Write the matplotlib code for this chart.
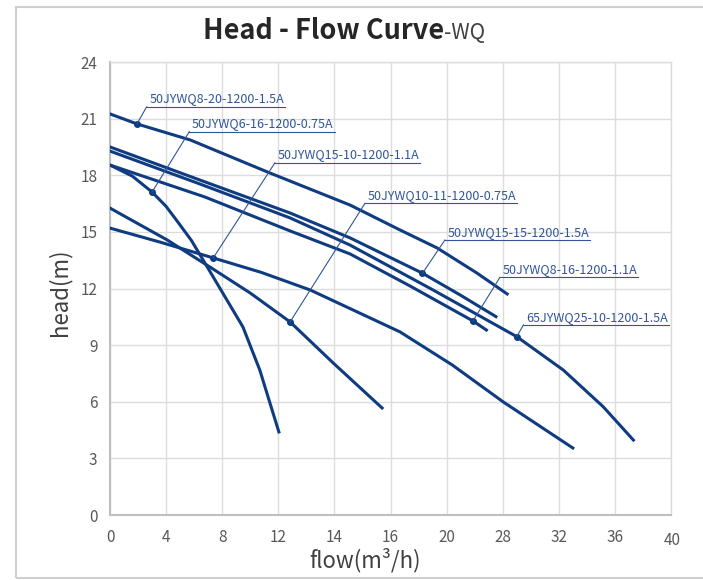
import numpy as np
import matplotlib.pyplot as plt
from matplotlib.patches import Rectangle
from matplotlib.transforms import ScaledTranslation

plt.rcParams['font.family'] = ['Noto Sans CJK SC', 'DejaVu Sans']

# x axis is categorical in the original: equally spaced positions with these labels
x_labels = ['0', '4', '8', '12', '14', '16', '20', '28', '32', '36', '40']
y_ticks = [0, 3, 6, 9, 12, 15, 18, 21, 24]

models = ['50JYWQ8-20-1200-1.5A', '50JYWQ6-16-1200-0.75A', '50JYWQ15-10-1200-1.1A',
          '50JYWQ10-11-1200-0.75A', '50JYWQ15-15-1200-1.5A', '50JYWQ8-16-1200-1.1A',
          '65JYWQ25-10-1200-1.5A']

# curve points, x in axis-position units (0..10), head in m
pos_8_20 = [0, 0.48, 1.43, 2.85, 4.28, 5.17, 5.83, 6.54, 7.08]
head_8_20 = [21.25, 20.72, 19.87, 18.12, 16.42, 15.10, 14.15, 12.82, 11.71]

pos_6_16 = [0, 0.40, 0.75, 1.00, 1.21, 1.45, 1.66, 2.01, 2.37, 2.67, 3.01]
head_6_16 = [18.54, 17.95, 17.11, 16.35, 15.52, 14.55, 13.51, 11.76, 9.96, 7.68, 4.40]

pos_15_10 = [0, 0.89, 1.84, 2.70, 3.57, 5.17, 6.10, 7.01, 8.25]
head_15_10 = [15.20, 14.46, 13.62, 12.85, 11.92, 9.70, 7.95, 5.99, 3.55]

pos_10_11 = [0, 1.02, 1.78, 2.50, 3.21, 3.98, 4.85]
head_10_11 = [16.26, 14.57, 13.14, 11.76, 10.23, 8.05, 5.67]

pos_15_15 = [0, 1.60, 3.21, 4.28, 5.57, 6.24, 6.88]
head_15_15 = [19.50, 17.75, 16.00, 14.68, 12.81, 11.66, 10.51]

pos_8_16 = [0, 1.69, 3.21, 4.28, 5.35, 6.47, 6.71]
head_8_16 = [18.54, 16.85, 15.05, 13.83, 12.13, 10.28, 9.80]

pos_25_10 = [0, 1.60, 3.21, 4.28, 5.76, 7.25, 8.08, 8.79, 9.33]
head_25_10 = [19.28, 17.54, 15.74, 14.30, 11.92, 9.45, 7.68, 5.74, 3.97]

curve_pos = [pos_8_20, pos_6_16, pos_15_10, pos_10_11, pos_15_15, pos_8_16, pos_25_10]
curve_head = [head_8_20, head_6_16, head_15_10, head_10_11, head_15_15, head_8_16, head_25_10]
marker_idx = [1, 2, 2, 4, 4, 5, 5]

# where each callout's underline starts (axis-position, head)
callout_xy = [(0.654, 21.63), (1.414, 20.31), (2.94, 18.66), (4.545, 16.51),
              (5.97, 14.57), (6.95, 12.59), (7.37, 10.07)]

line_c = '#0f3c80'
call_c = '#2f559a'

fig = plt.figure(figsize=(7.03, 5.80), dpi=100)
W, H = 703, 580
ax = fig.add_axes([110 / W, 1 - 515 / H, 561 / W, 453 / H])

for xs, hs, mi in zip(curve_pos, curve_head, marker_idx):
    ax.plot(xs, hs, color=line_c, lw=2.2, solid_joinstyle='round', zorder=3)
    ax.plot(xs[mi], hs[mi], 'o', color=line_c, ms=4, zorder=4)

ax.set_xlim(0, 10)
ax.set_ylim(0, 24)
ax.set_xticks(np.arange(len(x_labels)))
ax.set_xticklabels(x_labels)
ax.set_yticks(y_ticks)
ax.grid(True, color='#dcdcdc', lw=1)
ax.set_axisbelow(True)
ax.tick_params(length=0, labelsize=11, labelcolor='#595959')
ax.tick_params(axis='x', pad=10)
ax.tick_params(axis='y', pad=9)
for s in ax.spines.values():
    s.set_color('#dcdcdc')
    s.set_linewidth(1)
ax.spines['left'].set_color('#bfbfbf')
ax.spines['left'].set_linewidth(1.5)
ax.spines['bottom'].set_color('#bfbfbf')
ax.spines['bottom'].set_linewidth(1.5)

last = ax.get_xticklabels()[-1]
last.set_transform(last.get_transform() + ScaledTranslation(1 / 72, -2.5 / 72, fig.dpi_scale_trans))

fig.canvas.draw()
renderer = fig.canvas.get_renderer()
inv = ax.transData.inverted()

for name, (ux, uy), xs, hs, mi in zip(models, callout_xy, curve_pos, curve_head, marker_idx):
    t = ax.text(ux, uy, name, fontsize=9, color=call_c, ha='left', va='bottom',
                transform=ax.transData + ScaledTranslation(2 / 72, 1 / 72, fig.dpi_scale_trans),
                zorder=5)
    bb = t.get_window_extent(renderer)
    x_end = inv.transform((bb.x1 + 1, 0))[0]
    ax.plot([ux, x_end], [uy, uy], color=call_c, lw=0.8, zorder=5)
    ax.plot([xs[mi], ux], [hs[mi], uy], color=call_c, lw=0.8, zorder=5)

t1 = fig.text(203 / W, 1 - 39 / H, 'Head - Flow Curve', fontsize=19.5, fontweight='bold',
              color='#262626', ha='left', va='baseline')
fig.canvas.draw()
bb = t1.get_window_extent(fig.canvas.get_renderer())
fig.text(bb.x1 / W, 1 - 39 / H, '-WQ', fontsize=15, color='#404040', ha='left', va='baseline')

fig.text(60 / W, 1 - 292 / H, 'head(m)', fontsize=16, color='#404040', rotation=90,
         ha='center', va='center')
fig.text(365 / W, 1 - 560 / H, 'flow(m³/h)', fontsize=16, color='#404040',
         ha='center', va='center')

fig.add_artist(Rectangle((16 / W, 2 / H), 1.0, (571) / H, transform=fig.transFigure,
                         fill=False, edgecolor='#cfcfcf', lw=1.5))

fig.savefig('out.png', dpi=100)
